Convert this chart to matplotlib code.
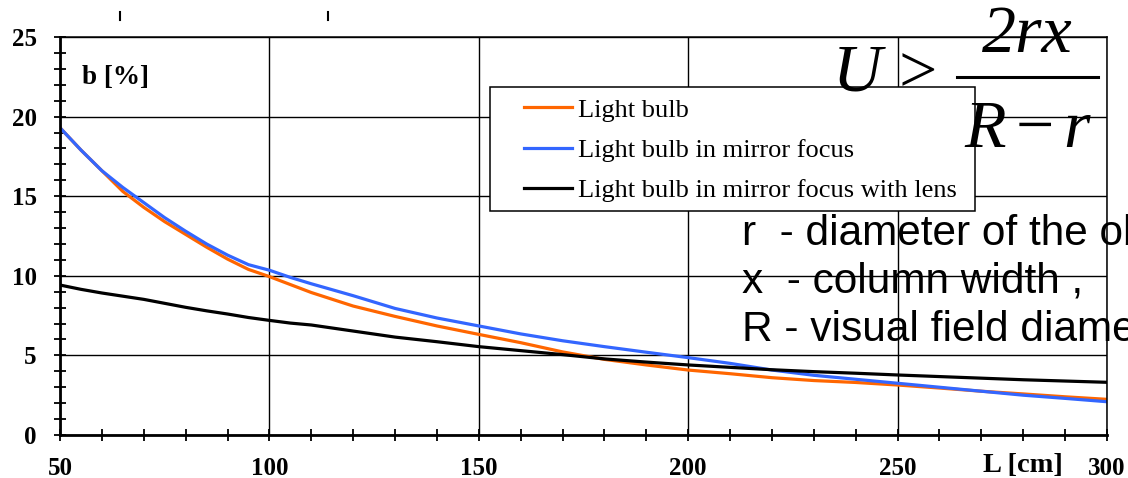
import matplotlib
matplotlib.use("Agg")
import matplotlib.pyplot as plt
from matplotlib.lines import Line2D
from matplotlib.patches import Rectangle
from matplotlib.ticker import MultipleLocator

# ---- data ----
L_cm = [50, 55, 60, 65, 70, 75, 80, 85, 90, 95, 100, 105, 110, 120, 130, 140,
        150, 160, 170, 180, 190, 200, 210, 220, 230, 240, 250, 260, 270, 280, 290, 300]
bulb = [19.3, 17.9, 16.6, 15.3, 14.3, 13.4, 12.6, 11.8, 11.05, 10.4, 9.95, 9.45, 8.95,
        8.1, 7.45, 6.85, 6.32, 5.8, 5.22, 4.75, 4.4, 4.08, 3.85, 3.6, 3.42, 3.3,
        3.14, 2.95, 2.75, 2.58, 2.4, 2.24]
bulb_mirror = [19.3, 17.9, 16.6, 15.55, 14.6, 13.65, 12.8, 12.0, 11.3, 10.7, 10.35, 9.9,
               9.5, 8.75, 7.95, 7.35, 6.85, 6.35, 5.92, 5.55, 5.2, 4.86, 4.5, 4.08,
               3.75, 3.5, 3.25, 3.0, 2.75, 2.5, 2.3, 2.09]
bulb_mirror_lens = [9.42, 9.15, 8.92, 8.72, 8.52, 8.27, 8.02, 7.8, 7.6, 7.38, 7.2, 7.03,
                    6.91, 6.53, 6.15, 5.86, 5.55, 5.3, 5.05, 4.78, 4.58, 4.4, 4.25, 4.1,
                    3.98, 3.88, 3.77, 3.67, 3.57, 3.47, 3.39, 3.31]
series_labels = ["Light bulb", "Light bulb in mirror focus",
                 "Light bulb in mirror focus with lens"]
x_ticks = [50, 100, 150, 200, 250, 300]
x_tick_labels = ["50", "100", "150", "200", "250", "300"]
y_ticks = [0, 5, 10, 15, 20, 25]
notes = ["r  - diameter of the object ,", "x  - column width ,", "R - visual field diameter"]

plt.rcParams["mathtext.fontset"] = "custom"
plt.rcParams["mathtext.it"] = "Liberation Serif:italic"
plt.rcParams["mathtext.rm"] = "Liberation Serif"

W, H = 1128, 478
fig = plt.figure(figsize=(W / 100, H / 100), dpi=100)
SERIF = "Liberation Serif"
SANS = "Liberation Sans"

def fx(px):
    return px / W

def fy(py):
    return 1 - py / H

ax = fig.add_axes([fx(60), fy(435), (1107 - 60) / W, (435 - 37) / H])
ax.set_xlim(50, 300)
ax.set_ylim(0, 25)

ax.grid(True, which="major", color="black", lw=1.0, zorder=1)
ax.set_axisbelow(True)

ax.plot(L_cm, bulb, color="#FF6600", lw=2.3, label=series_labels[0], zorder=3)
ax.plot(L_cm, bulb_mirror, color="#3366FF", lw=2.3, label=series_labels[1], zorder=3)
ax.plot(L_cm, bulb_mirror_lens, color="black", lw=2.3, label=series_labels[2], zorder=3)

ax.set_xticks(x_ticks)
ax.set_xticklabels(x_tick_labels)
ax.set_yticks(y_ticks)
ax.xaxis.set_minor_locator(MultipleLocator(10))
ax.yaxis.set_minor_locator(MultipleLocator(1))
for lab in ax.get_xticklabels() + ax.get_yticklabels():
    lab.set_fontfamily(SERIF)
    lab.set_fontweight("bold")
    lab.set_fontsize(18)
ax.tick_params(axis="both", which="both", direction="inout", length=8.5, width=1.3,
               color="black")
ax.tick_params(axis="x", which="major", pad=11.5)
ax.tick_params(axis="y", which="major", pad=12.5)

for s in ["left", "bottom"]:
    ax.spines[s].set_linewidth(2.0)
for s in ["top", "right"]:
    ax.spines[s].set_linewidth(1.1)
for s in ax.spines.values():
    s.set_color("black")
    s.set_zorder(4)

# axis titles placed like original
ax.text((82 - 60) / 1047, (435 - 84) / 398, "b [%]", transform=ax.transAxes,
        fontfamily=SERIF, fontweight="bold", fontsize=19.5, va="baseline", ha="left")
fig.text(fx(983), fy(472), "L [cm]", fontfamily=SERIF, fontweight="bold",
         fontsize=20.5, va="baseline", ha="left")

# legend with separate frame
frame = Rectangle(((490 - 60) / 1047, (435 - 211) / 398), (975 - 490) / 1047,
                  (211 - 87) / 398, transform=ax.transAxes, facecolor="white",
                  edgecolor="black", lw=1.1, zorder=5)
ax.add_patch(frame)
leg = ax.legend(loc="center left", bbox_to_anchor=((524 - 60) / 1047, (435 - 150) / 398),
                frameon=False, borderpad=0, borderaxespad=0, handlelength=1.82,
                handletextpad=0.23, labelspacing=0.63,
                prop={"family": SERIF, "size": 19})
leg.set_zorder(6)

# stray small marks above plot
for xm in (120, 328):
    fig.add_artist(Line2D([fx(xm), fx(xm)], [fy(12), fy(20)], color="black", lw=1.5))

# formula
FS = 49
fig.text(fx(857), fy(74), "U", fontfamily=SERIF, style="italic", fontsize=FS,
         ha="center", va="center")
fig.text(fx(918), fy(76), ">", fontfamily=SERIF, fontsize=FS, ha="center", va="center")
fig.text(fx(1027), fy(52), "2rx", fontfamily=SERIF, style="italic", fontsize=FS,
         ha="center", va="baseline")
fig.add_artist(Line2D([fx(957), fx(1098)], [fy(77), fy(77)], color="black", lw=2.2))
fig.text(fx(1028), fy(147), r"$R-r$", fontsize=FS, ha="center", va="baseline")

# notes
for i, t in enumerate(notes):
    fig.text(fx(742), fy(245 + 48 * i), t, fontfamily=SANS, fontsize=30.5,
             ha="left", va="baseline")

fig.savefig("out.png", dpi=100)
